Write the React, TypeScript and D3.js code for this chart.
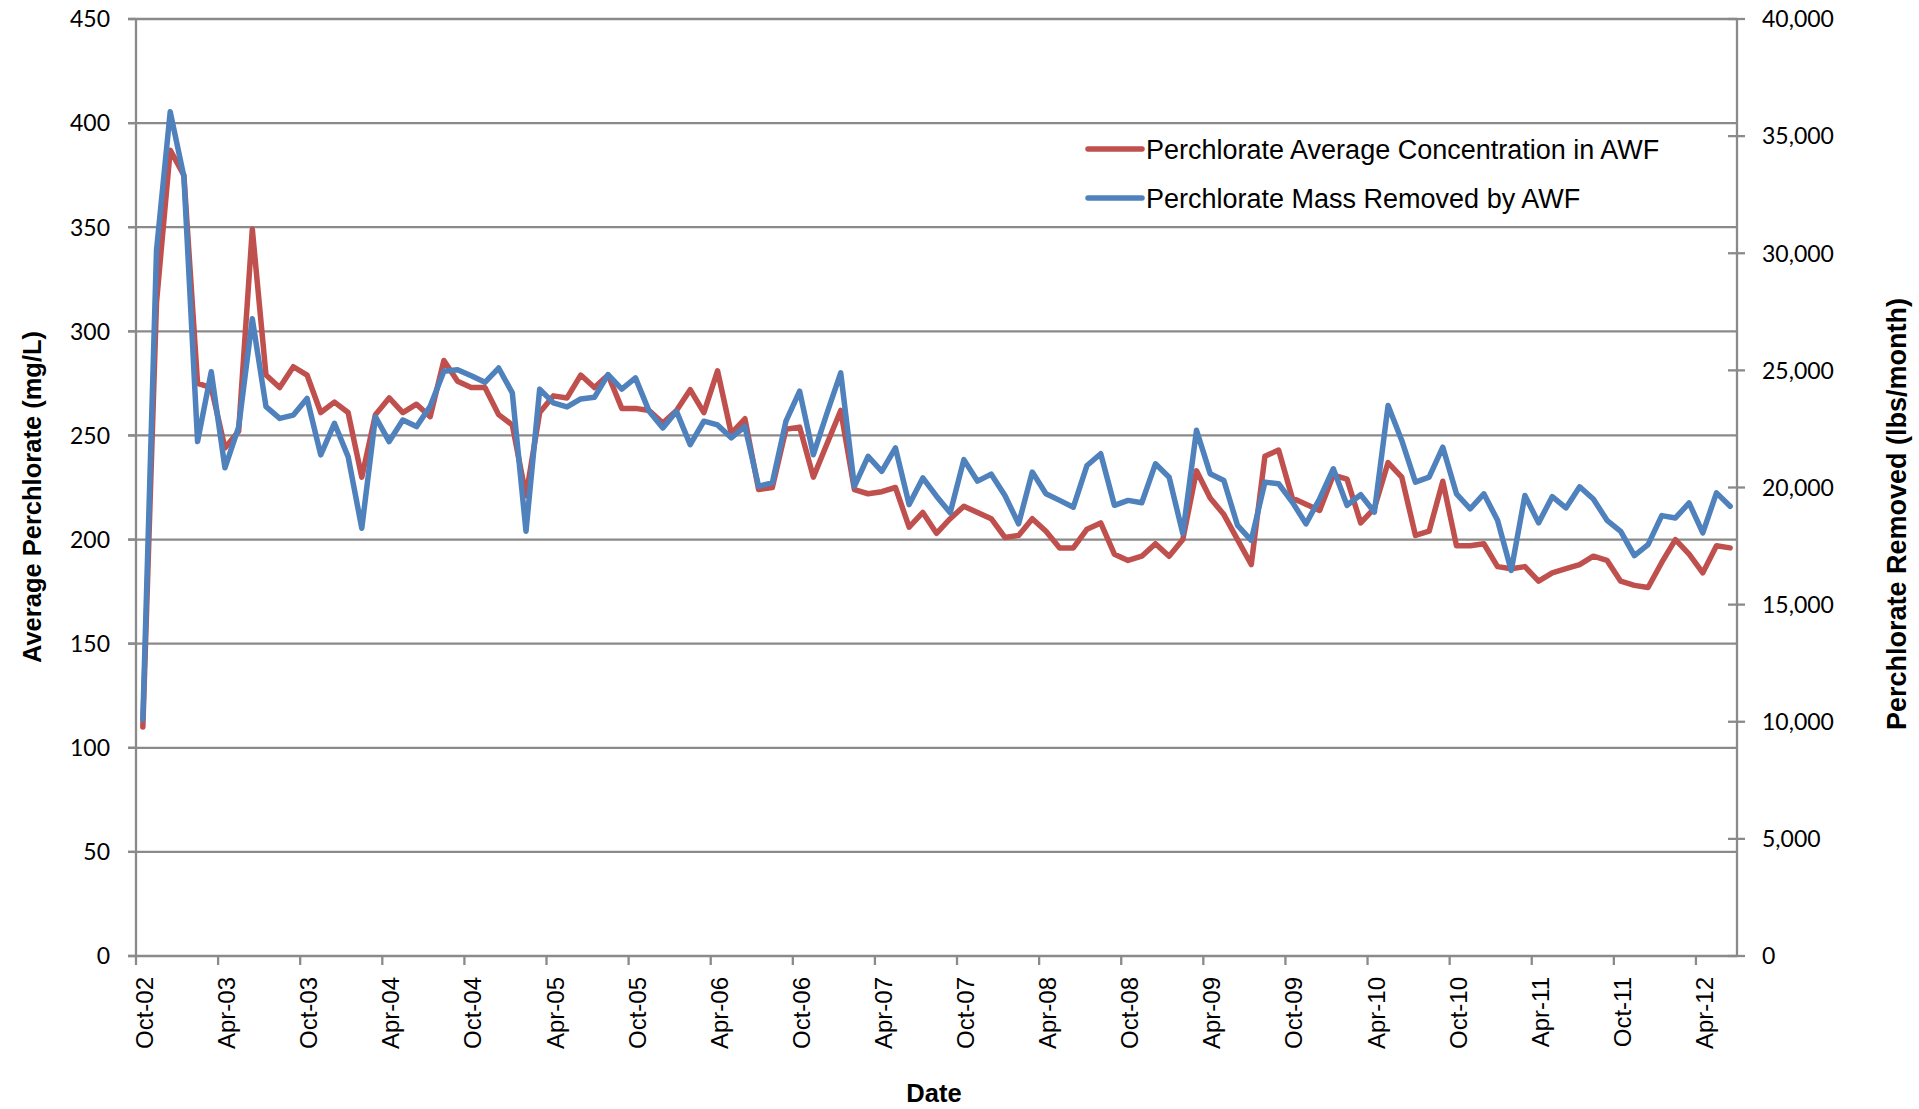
import React, { useEffect } from "react";
import * as d3 from "d3";

// Monthly data, Oct-2002 .. Jun-2012
const startMonth = new Date(2002, 9, 1);
const endMonthExclusive = new Date(2012, 6, 1);
const months: Date[] = d3.timeMonths(startMonth, endMonthExclusive);

const concentration: number[] = [
  110, 314, 387, 375, 275, 273, 244, 252, 349, 279,
  273, 283, 279, 261, 266, 261, 230, 260, 268, 261,
  265, 259, 286, 276, 273, 273, 260, 255, 221, 261,
  269, 268, 279, 273, 279, 263, 263, 262, 256, 262,
  272, 261, 281, 251, 258, 224, 225, 253, 254, 230,
  246, 262, 224, 222, 223, 225, 206, 213, 203, 210,
  216, 213, 210, 201, 202, 210, 204, 196, 196, 205,
  208, 193, 190, 192, 198, 192, 200, 233, 220, 212,
  200, 188, 240, 243, 220, 217, 214, 231, 229, 208,
  215, 237, 230, 202, 204, 228, 197, 197, 198, 187,
  186, 187, 180, 184, 186, 188, 192, 190, 180, 178,
  177, 189, 200, 193, 184, 197, 196,
];

const massRemoved: number[] = [
  10100, 30130, 36040, 33270, 21960, 24940, 20840, 22580, 27200, 23450,
  22950, 23090, 23800, 21390, 22740, 21320, 18260, 23020, 21960, 22880,
  22600, 23470, 24960, 25030, 24770, 24490, 25100, 24040, 18130, 24200,
  23610, 23440, 23780, 23850, 24820, 24200, 24680, 23250, 22540, 23250,
  21830, 22830, 22670, 22120, 22610, 20050, 20200, 22830, 24110, 21400,
  23180, 24890, 20050, 21330, 20690, 21690, 19270, 20410, 19630, 18920,
  21190, 20270, 20570, 19660, 18450, 20660, 19730, 19450, 19160, 20940,
  21440, 19240, 19450, 19350, 21010, 20440, 18030, 22440, 20590, 20300,
  18380, 17740, 20230, 20160, 19380, 18450, 19520, 20800, 19240, 19690,
  18950, 23500, 22010, 20230, 20440, 21720, 19730, 19090, 19730, 18600,
  16460, 19660, 18490, 19610, 19130, 20030, 19510, 18600, 18130, 17090,
  17560, 18800, 18700, 19340, 18060, 19770, 19200,
];

const leftTicks: number[] = [0, 50, 100, 150, 200, 250, 300, 350, 400, 450];
const rightTicks: number[] = [0, 5000, 10000, 15000, 20000, 25000, 30000, 35000, 40000];

const seriesNames = [
  "Perchlorate Average Concentration in AWF",
  "Perchlorate Mass Removed by AWF",
];
const seriesColors = ["#C0504D", "#4F81BD"];

const W = 1919;
const H = 1109;
const PL = 136;
const PR = 1737;
const PT = 19;
const PB = 956;
const AXIS = "#8A8A8A";
const NUM_FONT = "Lato, 'Open Sans', sans-serif";
const TXT_FONT = "'Liberation Sans', Arial, sans-serif";

export default function App() {
  useEffect(() => {
    document.body.style.margin = "0";
  }, []);

  const x = d3.scaleLinear().domain([0, months.length]).range([PL, PR]);
  const yL = d3.scaleLinear().domain([0, 450]).range([PB, PT]);
  const yR = d3.scaleLinear().domain([0, 40000]).range([PB, PT]);
  const fmtMonth = d3.timeFormat("%b-%y");
  const fmtNum = d3.format(",");

  const lineL = d3
    .line<number>()
    .x((_, i) => x(i + 0.5))
    .y((d) => yL(d));
  const lineR = d3
    .line<number>()
    .x((_, i) => x(i + 0.5))
    .y((d) => yR(d));

  const monthTicks = months.map((m, i) => ({ m, i })).filter((d) => d.i % 6 === 0);

  return (
    <svg width={W} height={H} style={{ display: "block", background: "#fff" }}>
      {/* gridlines */}
      {leftTicks
        .filter((t) => t > 0)
        .map((t) => (
          <line key={"g" + t} x1={PL - 8} x2={PR} y1={yL(t)} y2={yL(t)} stroke={AXIS} strokeWidth={2.3} />
        ))}
      {/* axes */}
      <line x1={PL} x2={PL} y1={PT} y2={PB} stroke={AXIS} strokeWidth={2.3} />
      <line x1={PR} x2={PR} y1={PT} y2={PB} stroke={AXIS} strokeWidth={2.3} />
      <line x1={PL - 8} x2={PR} y1={PB} y2={PB} stroke={AXIS} strokeWidth={2.3} />
      {/* left ticks + labels */}
      {leftTicks.map((t) => (
        <g key={"l" + t}>
          <line x1={PL - 8} x2={PL} y1={yL(t)} y2={yL(t)} stroke={AXIS} strokeWidth={2.3} />
          <text x={110} y={yL(t)} dy="0.36em" textAnchor="end" fontFamily={NUM_FONT} fontSize={23} fill="#000">
            {t}
          </text>
        </g>
      ))}
      {/* right ticks + labels */}
      {rightTicks.map((t) => (
        <g key={"r" + t}>
          <line x1={PR - 9} x2={PR + 8} y1={yR(t)} y2={yR(t)} stroke={AXIS} strokeWidth={2.3} />
          <text x={1762} y={yR(t)} dy="0.36em" textAnchor="start" fontFamily={NUM_FONT} fontSize={23} fill="#000">
            {fmtNum(t)}
          </text>
        </g>
      ))}
      {/* bottom ticks + labels */}
      {monthTicks.map(({ m, i }) => (
        <g key={"b" + i}>
          <line x1={x(i)} x2={x(i)} y1={PB} y2={PB + 9} stroke={AXIS} strokeWidth={2.3} />
          <text
            transform={`translate(${x(i) + 17},977) rotate(-90)`}
            textAnchor="end"
            fontFamily={TXT_FONT}
            fontSize={24}
            fill="#000"
          >
            {fmtMonth(m)}
          </text>
        </g>
      ))}
      {/* series */}
      <path d={lineL(concentration) || ""} fill="none" stroke={seriesColors[0]} strokeWidth={5.5} strokeLinejoin="round" strokeLinecap="round" />
      <path d={lineR(massRemoved) || ""} fill="none" stroke={seriesColors[1]} strokeWidth={5.5} strokeLinejoin="round" strokeLinecap="round" />
      {/* axis titles */}
      <text transform="translate(41,497) rotate(-90)" textAnchor="middle" fontFamily={TXT_FONT} fontWeight="bold" fontSize={25.5} fill="#000">
        Average Perchlorate (mg/L)
      </text>
      <text transform="translate(1906,514) rotate(-90)" textAnchor="middle" fontFamily={TXT_FONT} fontWeight="bold" fontSize={27} fill="#000">
        Perchlorate Removed (lbs/month)
      </text>
      <text x={934} y={1102} textAnchor="middle" fontFamily={TXT_FONT} fontWeight="bold" fontSize={25.5} fill="#000">
        Date
      </text>
      {/* legend */}
      {seriesNames.map((name, k) => {
        const ly = 149 + k * 49;
        return (
          <g key={name}>
            <line x1={1088} x2={1142} y1={ly} y2={ly} stroke={seriesColors[k]} strokeWidth={5.5} strokeLinecap="round" />
            <text x={1146} y={ly} dy="0.36em" fontFamily={TXT_FONT} fontSize={27} fill="#000">
              {name}
            </text>
          </g>
        );
      })}
    </svg>
  );
}
